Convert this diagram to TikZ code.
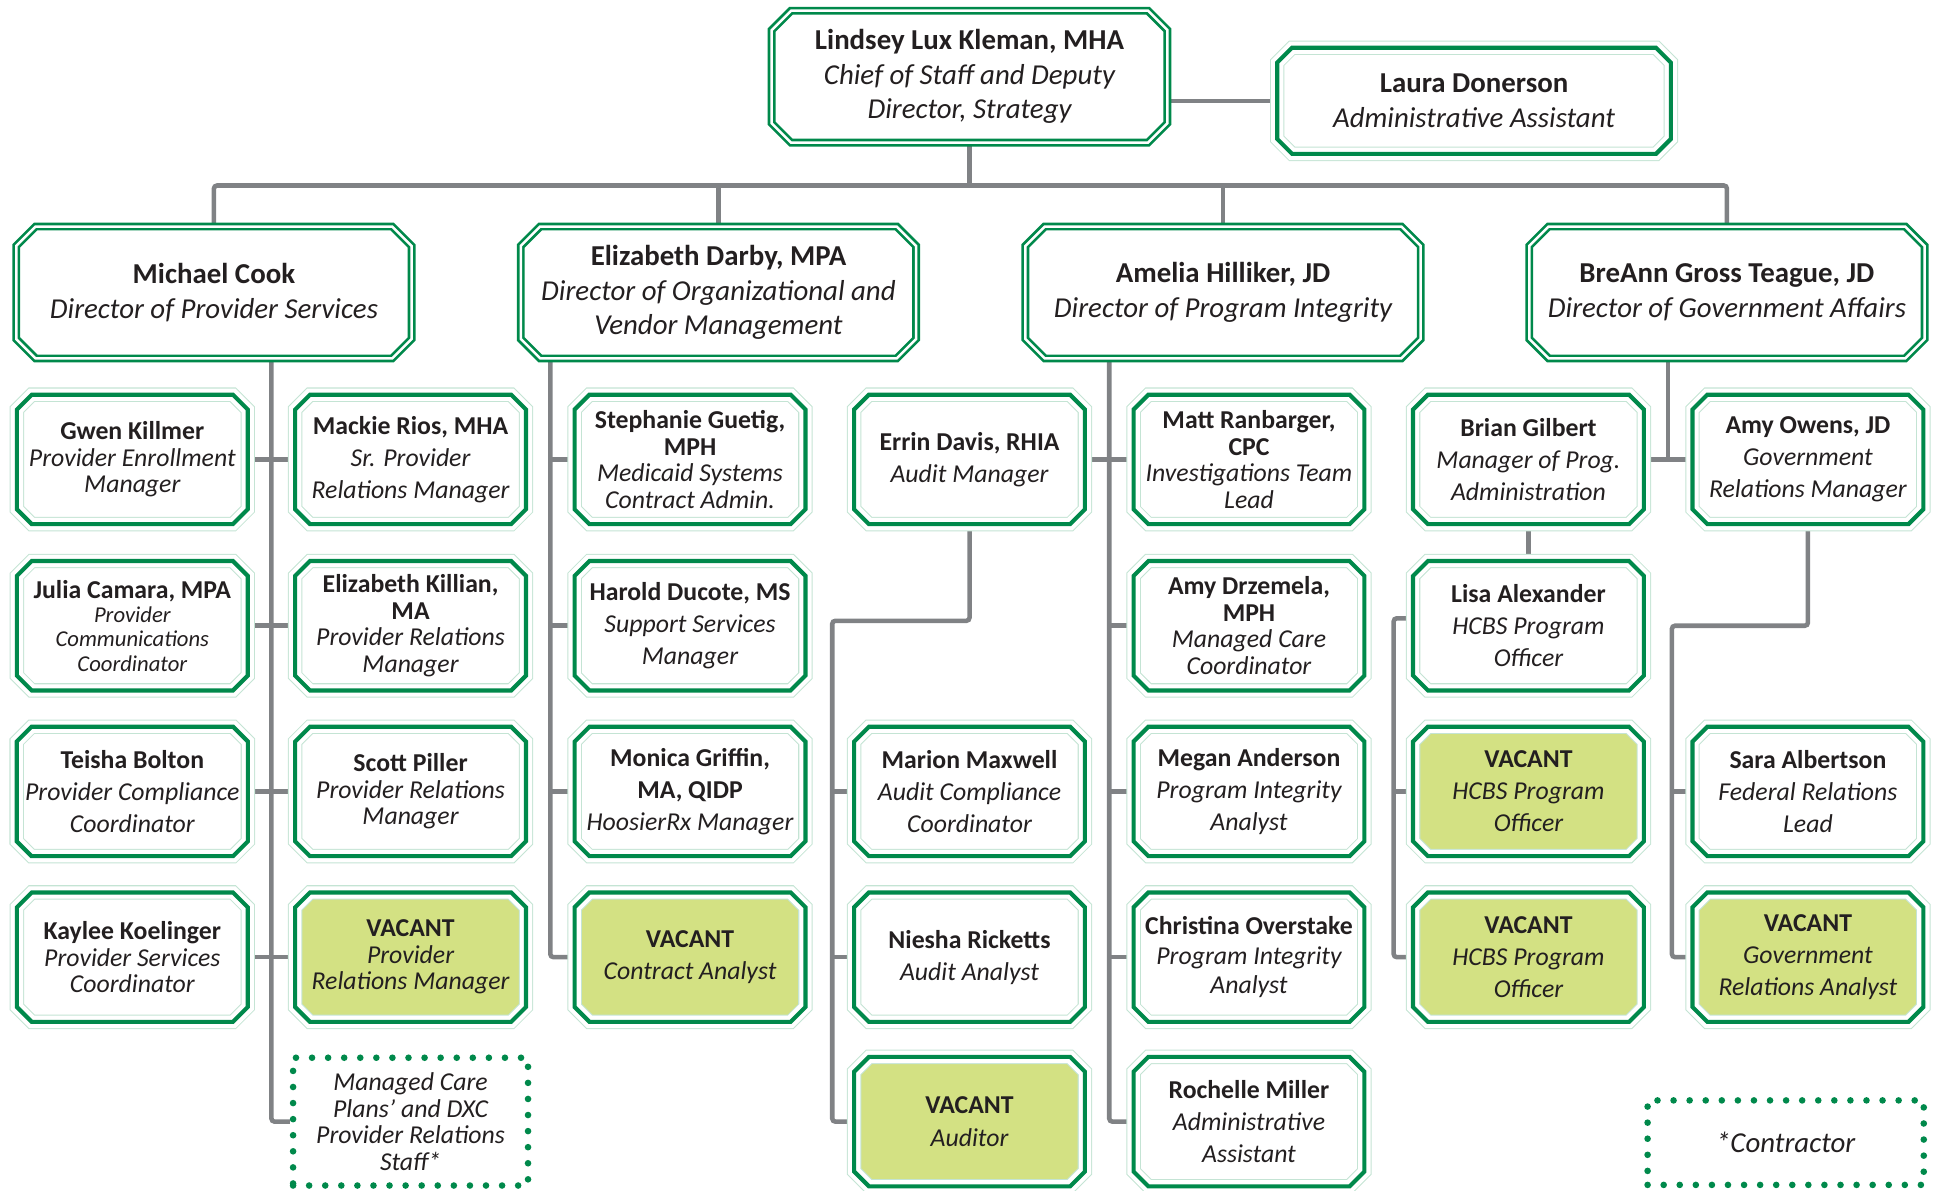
\documentclass[tikz,border=0pt]{standalone}
\usepackage{fontspec}
\setmainfont{Carlito}
\usepackage{tikz}
\usetikzlibrary{calc,shapes.misc,backgrounds}

\definecolor{boxgreen}{RGB}{0,137,75}
\definecolor{palegreen}{RGB}{196,228,212}
\definecolor{vacantfill}{RGB}{211,225,131}
\definecolor{linkgray}{RGB}{128,130,133}
\definecolor{textdark}{RGB}{35,31,32}

\newcommand{\nm}[1]{{\upshape\bfseries #1}}

\begin{document}
\begin{tikzpicture}[x=0.6pt,y=-0.6pt,
  every node/.style={text=textdark},
  head/.style={chamfered rectangle, chamfered rectangle xsep=4.7pt, chamfered rectangle ysep=4.7pt,
    draw=boxgreen, line width=1.3pt, double=white, double distance=1.2pt, fill=white,
    minimum width=191.8pt, minimum height=64pt, inner sep=1pt, align=center,
    font=\fontsize{14}{16.8}\selectfont\itshape},
  staff/.style={chamfered rectangle, chamfered rectangle xsep=3.6pt, chamfered rectangle ysep=3.6pt,
    draw=palegreen, line width=0.5pt, double=white, double distance=6pt, fill=white,
    postaction={draw=boxgreen, line width=2pt},
    minimum width=112pt, minimum height=62.8pt, inner sep=0.5pt, align=center,
    font=\fontsize{12.5}{15.6}\selectfont\itshape},
  tight/.style={font=\fontsize{12.5}{12.9}\selectfont\itshape},
  vacant/.style={staff, fill=vacantfill},
  contract/.style={rectangle, draw=boxgreen, line width=3.2pt, dash pattern=on 0pt off 7.8pt,
    line cap=round, fill=white, inner sep=1pt, align=center,
    font=\fontsize{12.5}{12.9}\selectfont\itshape},
  link/.style={draw=linkgray, line width=2.2pt, rounded corners=1.5pt}
]
\useasboundingbox (0,0) rectangle (1568,963);

\node[head, minimum width=192pt] (lkleman) at (784,62)
  {\nm{Lindsey Lux Kleman, MHA}\\Chief of Staff and Deputy\\Director, Strategy};
\node[staff, minimum width=191pt, minimum height=51.5pt, font=\fontsize{14}{17.4}\selectfont\itshape] (ldonerson) at (1192,81.5)
  {\nm{Laura Donerson}\\Administrative Assistant};

\node[head] (mcook) at (173,236.5) {\nm{Michael Cook}\\Director of Provider Services};
\node[head] (edarby) at (581,236.5) {\nm{Elizabeth Darby, MPA}\\Director of Organizational and\\Vendor Management};
\node[head] (ahilliker) at (989,236.5) {\nm{Amelia Hilliker, JD}\\Director of Program Integrity};
\node[head] (bteague) at (1396.5,236.5) {\nm{BreAnn Gross Teague, JD}\\Director of Government Affairs};

\node[staff, tight] (gkillmer) at (107,371.5) {\nm{Gwen Killmer}\\Provider Enrollment\\Manager};
\node[staff, font=\fontsize{11}{11.8}\selectfont\itshape] (jcamara) at (107,506)
  {{\fontsize{12.5}{11.8}\selectfont\nm{Julia Camara, MPA}}\\Provider\\Communications\\Coordinator};
\node[staff] (tbolton) at (107,640) {\nm{Teisha Bolton}\\Provider Compliance\\Coordinator};
\node[staff, tight] (kkoelinger) at (107,774) {\nm{Kaylee Koelinger}\\Provider Services\\Coordinator};

\node[staff] (mrios) at (332,371.5) {\nm{Mackie Rios, MHA}\\Sr. Provider\\Relations Manager};
\node[staff, tight] (ekillian) at (332,506) {\nm{Elizabeth Killian,}\\\nm{MA}\\Provider Relations\\Manager};
\node[staff, tight] (spiller) at (332,640) {\nm{Scott Piller}\\Provider Relations\\Manager};
\node[vacant, tight] (vprovrel) at (332,774) {\nm{VACANT}\\Provider\\Relations Manager};
\node[contract, minimum width=114pt, minimum height=62pt] (mcplans) at (332,907)
  {Managed Care\\Plans’ and DXC\\Provider Relations\\Staff*};

\node[staff, tight] (sguetig) at (558,371.5) {\nm{Stephanie Guetig,}\\\nm{MPH}\\Medicaid Systems\\Contract Admin.};
\node[staff] (hducote) at (558,506) {\nm{Harold Ducote, MS}\\Support Services\\Manager};
\node[staff] (mgriffin) at (558,640) {\nm{Monica Griffin,}\\\nm{MA, QIDP}\\HoosierRx Manager};
\node[vacant] (vcontract) at (558,774) {\nm{VACANT}\\Contract Analyst};

\node[staff] (edavis) at (784,371.5) {\nm{Errin Davis, RHIA}\\Audit Manager};
\node[staff] (mmaxwell) at (784,640) {\nm{Marion Maxwell}\\Audit Compliance\\Coordinator};
\node[staff] (nricketts) at (784,774) {\nm{Niesha Ricketts}\\Audit Analyst};
\node[vacant] (vauditor) at (784,907) {\nm{VACANT}\\Auditor};

\node[staff, tight] (mranbarger) at (1010,371.5) {\nm{Matt Ranbarger,}\\\nm{CPC}\\Investigations Team\\Lead};
\node[staff, tight] (adrzemela) at (1010,506) {\nm{Amy Drzemela,}\\\nm{MPH}\\Managed Care\\Coordinator};
\node[staff] (manderson) at (1010,640) {\nm{Megan Anderson}\\Program Integrity\\Analyst};
\node[staff, font=\fontsize{12.5}{14.4}\selectfont\itshape] (coverstake) at (1010,774) {\nm{Christina Overstake}\\Program Integrity\\Analyst};
\node[staff] (rmiller) at (1010,907) {\nm{Rochelle Miller}\\Administrative\\Assistant};

\node[staff] (bgilbert) at (1236,371.5) {\nm{Brian Gilbert}\\Manager of Prog.\\Administration};
\node[staff] (lalexander) at (1236,506) {\nm{Lisa Alexander}\\HCBS Program\\Officer};
\node[vacant] (vhcbsa) at (1236,640) {\nm{VACANT}\\HCBS Program\\Officer};
\node[vacant] (vhcbsb) at (1236,774) {\nm{VACANT}\\HCBS Program\\Officer};

\node[staff] (aowens) at (1462,371.5) {\nm{Amy Owens, JD}\\Government\\Relations Manager};
\node[staff] (salbertson) at (1462,640) {\nm{Sara Albertson}\\Federal Relations\\Lead};
\node[vacant] (vgovrel) at (1462,774) {\nm{VACANT}\\Government\\Relations Analyst};

\node[contract, minimum width=134pt, minimum height=41pt, font=\fontsize{14}{16}\selectfont\itshape] (legend) at (1444,924) {*Contractor};

\coordinate (bus) at (784,150);
\coordinate (mspine) at ($(gkillmer.east)!.5!(mrios.west)$);
\coordinate (dspine) at ($(mrios.east)!.5!(sguetig.west)$);
\coordinate (aspine) at ($(edavis.east)!.5!(mranbarger.west)$);
\coordinate (bspine) at ($(bgilbert.east)!.5!(aowens.west)$);
\coordinate (espine) at (673,502);
\coordinate (lspine) at (1127,500);
\coordinate (ospine) at (1352,506);

\begin{scope}[on background layer]
\draw[link] (lkleman.east |- ldonerson.west) -- (ldonerson.west);
\draw[link] (lkleman.south) -- (bus);
\draw[link] (mcook.north) |- (bus) -| (bteague.north);
\draw[link] (edarby.north) -- (edarby.north |- bus);
\draw[link] (ahilliker.north) -- (ahilliker.north |- bus);

\draw[link] (mcook.south -| mspine) |- (mcplans.west);
\draw[link] (gkillmer.east) -- (mrios.west);
\draw[link] (jcamara.east) -- (ekillian.west);
\draw[link] (tbolton.east) -- (spiller.west);
\draw[link] (kkoelinger.east) -- (vprovrel.west);

\draw[link] (edarby.south -| dspine) |- (vcontract.west);
\draw[link] (sguetig.west -| dspine) -- (sguetig.west);
\draw[link] (hducote.west -| dspine) -- (hducote.west);
\draw[link] (mgriffin.west -| dspine) -- (mgriffin.west);

\draw[link] (ahilliker.south -| aspine) |- (rmiller.west);
\draw[link] (edavis.east) -- (mranbarger.west);
\draw[link] (adrzemela.west -| aspine) -- (adrzemela.west);
\draw[link] (manderson.west -| aspine) -- (manderson.west);
\draw[link] (coverstake.west -| aspine) -- (coverstake.west);

\draw[link] (edavis.south) |- (espine) |- (vauditor.west);
\draw[link] (mmaxwell.west -| espine) -- (mmaxwell.west);
\draw[link] (nricketts.west -| espine) -- (nricketts.west);

\draw[link] (bteague.south -| bspine) -- (bspine);
\draw[link] (bgilbert.east) -- (aowens.west);
\draw[link] (bgilbert.south) -- (lalexander.north);
\draw[link] (lalexander.west |- lspine) -- (lspine) |- (vhcbsb.west);
\draw[link] (vhcbsa.west -| lspine) -- (vhcbsa.west);
\draw[link] (aowens.south) |- (ospine) |- (vgovrel.west);
\draw[link] (salbertson.west -| ospine) -- (salbertson.west);
\end{scope}
\end{tikzpicture}
\end{document}
